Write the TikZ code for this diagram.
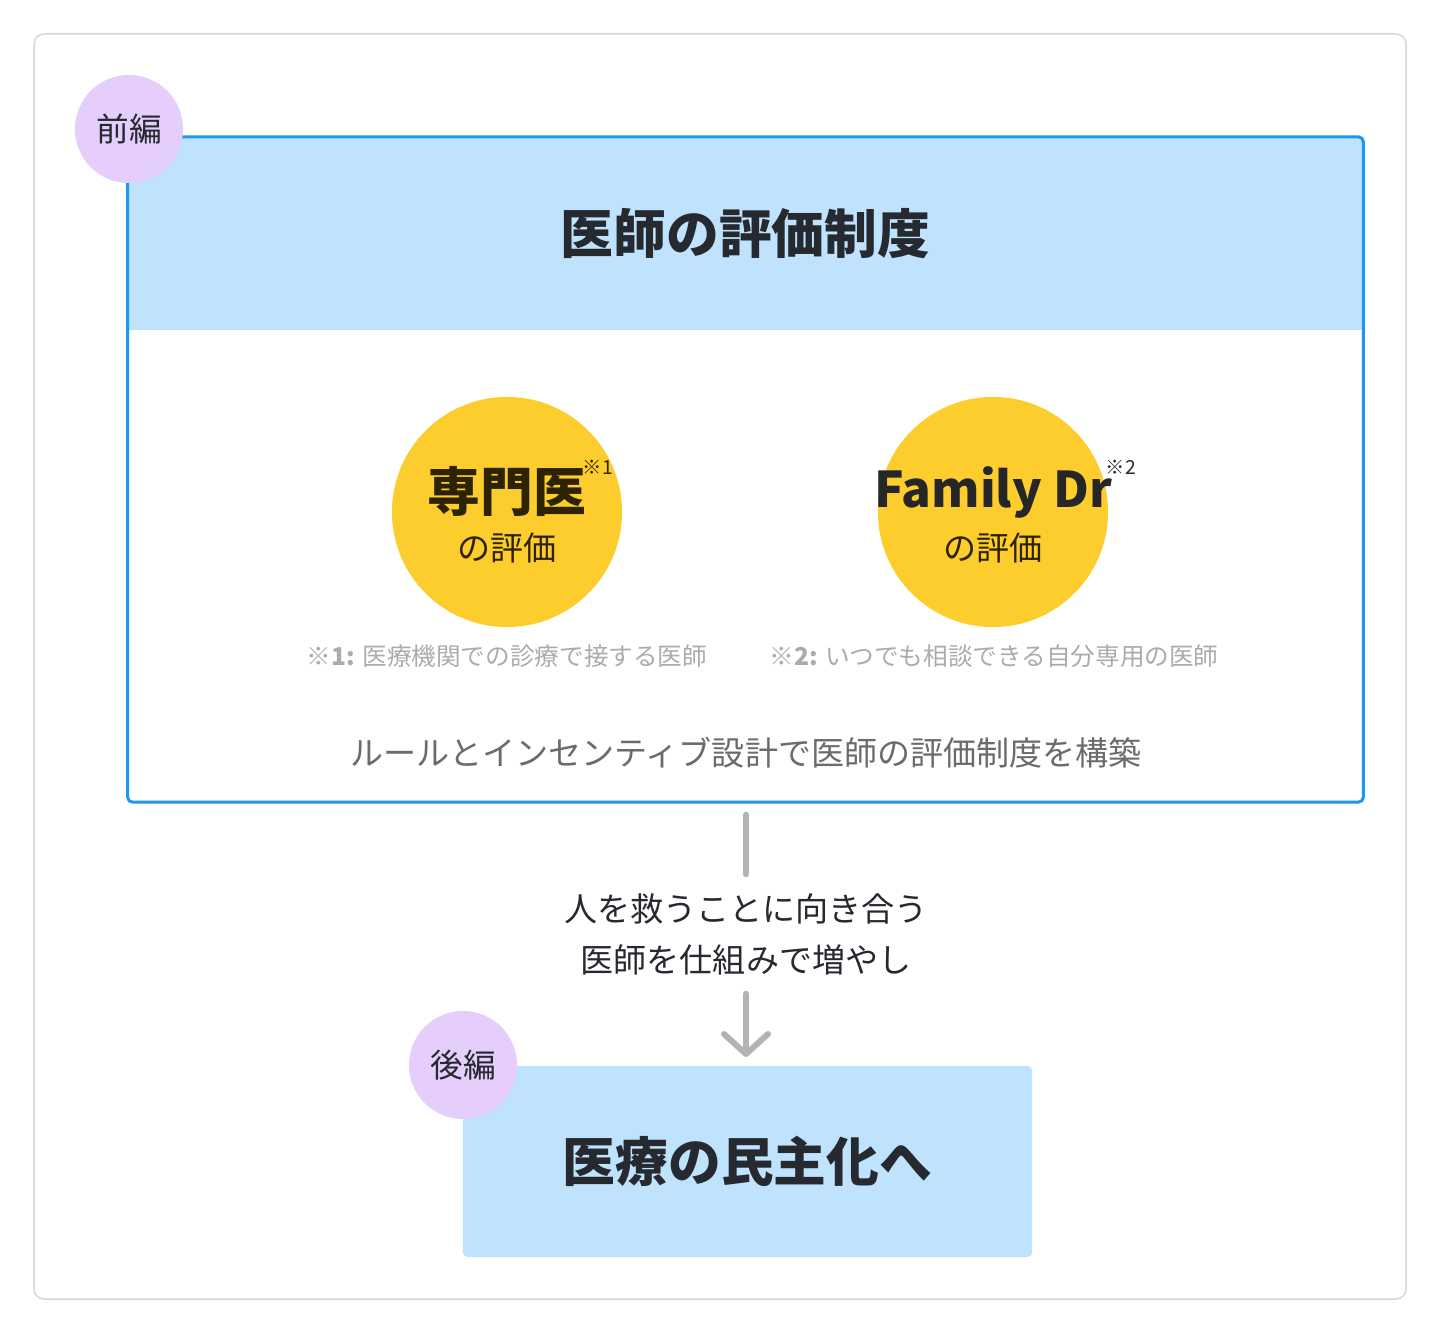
\documentclass[tikz,border=0pt]{standalone}
\usepackage{fontspec}
\setmainfont{Noto Sans CJK JP}
\usetikzlibrary{arrows.meta}
\definecolor{cardline}{HTML}{D6D6D6}
\definecolor{frameblue}{HTML}{1A98F2}
\definecolor{headblue}{HTML}{BFE3FC}
\definecolor{tagpurple}{HTML}{E5CDFC}
\definecolor{gold}{HTML}{FDCD2D}
\definecolor{ink}{HTML}{262A30}
\definecolor{inkbrown}{HTML}{2E2300}
\definecolor{notegray}{HTML}{ABABAB}
\definecolor{midgray}{HTML}{6B6B6B}
\definecolor{linegray}{HTML}{B3B3B3}
\begin{document}
\begin{tikzpicture}[x=0.01cm, y=-0.01cm,
	tag/.style={circle, fill=tagpurple, minimum size=1.08cm, inner sep=0pt, text=ink, font=\fontsize{9.3}{11}\selectfont},
	badge/.style={circle, fill=gold, minimum size=2.3cm, inner sep=0pt},
	bigtxt/.style={font=\bfseries\fontsize{15}{18}\selectfont},
	subtxt/.style={text=inkbrown, font=\fontsize{9.4}{11}\selectfont},
	supmark/.style={inner sep=0pt, font=\fontsize{5.5}{6}\selectfont},
	note/.style={text=notegray, font=\fontsize{7}{8}\selectfont},
	gline/.style={draw=linegray, line width=0.06cm, line cap=round}]
		\useasboundingbox (0,0) rectangle (1440,1334);
		\draw[cardline, line width=0.015cm, rounded corners=0.1cm] (34,34) rectangle (1406,1299);

		% first half
		\node[fill=headblue, minimum width=12.35cm, minimum height=1.93cm, inner sep=0pt, text=ink, bigtxt] (head) at (745.5,233.5) {医師の評価制度};
		\node[draw=frameblue, line width=0.03cm, rounded corners=0.05cm, minimum width=12.35cm, minimum height=6.65cm, inner sep=0pt] (main) at (745.5,469.5) {};
		\node[tag] (part1) at (129,129) {前編};

		\node[badge] (spec) at (507,512) {};
		\node[bigtxt, text=inkbrown] (specname) at (507,492) {専門医};
		\node[supmark, text=inkbrown] (specmark) at (598,467) {※1};
		\node[subtxt] (specsub) at (507,548) {の評価};

		\node[badge] (family) at (993,512) {};
		\node[text=black!85, font=\bfseries\fontsize{14}{16}\selectfont] (familyname) at (993,492) {Family Dr};
		\node[supmark, text=ink] (familymark) at (1121,467) {※2};
		\node[subtxt] (familysub) at (993,548) {の評価};

		\node[note] (specnote) at (507,656) {\textbf{※1:} 医療機関での診療で接する医師};
		\node[note] (familynote) at (994,656) {\textbf{※2:} いつでも相談できる自分専用の医師};
		\node[text=midgray, font=\fontsize{9.4}{11}\selectfont] (rule) at (746,753) {ルールとインセンティブ設計で医師の評価制度を構築};

		% link
		\node[align=center, text=ink, font=\fontsize{9.4}{14.5}\selectfont, minimum height=1.18cm, inner sep=0pt] (msg) at (746,934) {人を救うことに向き合う\\医師を仕組みで増やし};
		\draw[gline, shorten <=0.11cm] (msg.north |- main.south) -- (msg.north);
		\draw[gline, -{Straight Barb[length=0.2cm, width=0.44cm, round]}, shorten >=0.09cm] (msg.south) -- (msg.south |- 0,1066);

		% second half
		\node[fill=headblue, rounded corners=0.05cm, minimum width=5.69cm, minimum height=1.91cm, inner sep=0pt, text=ink, bigtxt] (late) at (747.5,1161.5) {医療の民主化へ};
		\node[tag] (part2) at (463,1065) {後編};

	\end{tikzpicture}
\end{document}
